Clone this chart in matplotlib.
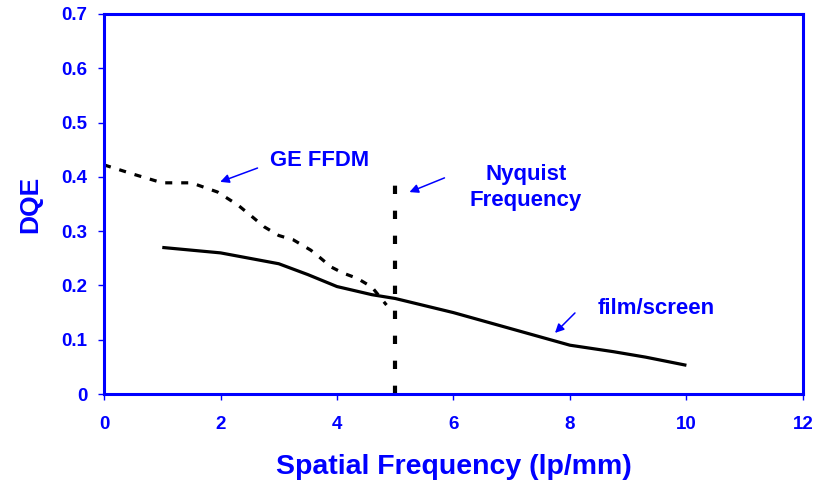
import matplotlib
matplotlib.use("Agg")
import matplotlib.pyplot as plt

# GE FFDM (dashed)
ffdm_x = [0.0, 0.5, 1.0, 1.5, 1.95, 2.3, 2.55, 2.75, 3.0, 3.25, 3.55, 3.7, 3.9, 4.1, 4.35, 4.6, 4.85]
ffdm_y = [0.422, 0.405, 0.389, 0.389, 0.372, 0.348, 0.326, 0.308, 0.292, 0.284, 0.265, 0.252, 0.234, 0.223, 0.213, 0.197, 0.164]

# film/screen (solid)
film_x = [1, 2, 3, 3.5, 4, 4.6, 5, 6, 7, 8, 8.75, 9.3, 10]
film_y = [0.270, 0.260, 0.240, 0.220, 0.198, 0.183, 0.176, 0.150, 0.120, 0.090, 0.078, 0.068, 0.053]

# Nyquist frequency marker
nyq_x = 5
nyq_top = 0.385

blue = "#0000FF"
font = "Liberation Sans"

fig = plt.figure(figsize=(8.29, 4.80), dpi=100)
ax = fig.add_axes([0.1255, 0.179, 0.843, 0.792])

ax.plot(ffdm_x, ffdm_y, color="black", lw=2.3, dashes=(2.2, 2.8))
ax.plot(film_x, film_y, color="black", lw=2.3, solid_capstyle="butt")
ax.plot([nyq_x, nyq_x], [0, nyq_top], color="black", lw=3.0, dashes=(2.0, 4.0))

ax.set_xlim(0, 12)
ax.set_ylim(0, 0.7)
ax.set_xticks(range(0, 13, 2))
ax.set_yticks([0, 0.1, 0.2, 0.3, 0.4, 0.5, 0.6, 0.7])
ax.set_yticklabels(["0", "0.1", "0.2", "0.3", "0.4", "0.5", "0.6", "0.7"])

for s in ax.spines.values():
    s.set_color(blue)
    s.set_linewidth(2.2)

ax.tick_params(axis="both", direction="out", length=4, width=1, color=blue,
               labelcolor=blue, labelsize=13.5)
ax.tick_params(axis="x", pad=12)
ax.tick_params(axis="y", pad=8)
for lab in ax.get_xticklabels() + ax.get_yticklabels():
    lab.set_fontweight("bold")
    lab.set_family(font)

ax.set_xlabel("Spatial Frequency (lp/mm)", fontsize=20.5, fontweight="bold",
              color=blue, family=font, labelpad=15)
ax.set_ylabel("DQE", fontsize=19, fontweight="bold", color=blue, family=font, labelpad=14)

# annotations
arrow = dict(arrowstyle="-|>", color=blue, lw=1.1, mutation_scale=13)
ax.annotate("", xy=(1.95, 0.389), xytext=(2.68, 0.418), arrowprops=arrow)
ax.text(2.85, 0.43, "GE FFDM", color=blue, fontsize=15.8, fontweight="bold",
        family=font, ha="left", va="center")

ax.annotate("", xy=(5.2, 0.370), xytext=(5.89, 0.400), arrowprops=arrow)
ax.text(7.245, 0.38, "Nyquist\nFrequency", color=blue, fontsize=16, fontweight="bold",
        family=font, ha="center", va="center", linespacing=1.3)

ax.annotate("", xy=(7.71, 0.109), xytext=(8.12, 0.153), arrowprops=arrow)
ax.text(8.48, 0.157, "film/screen", color=blue, fontsize=16, fontweight="bold",
        family=font, ha="left", va="center")

fig.savefig("out.png", dpi=100)
